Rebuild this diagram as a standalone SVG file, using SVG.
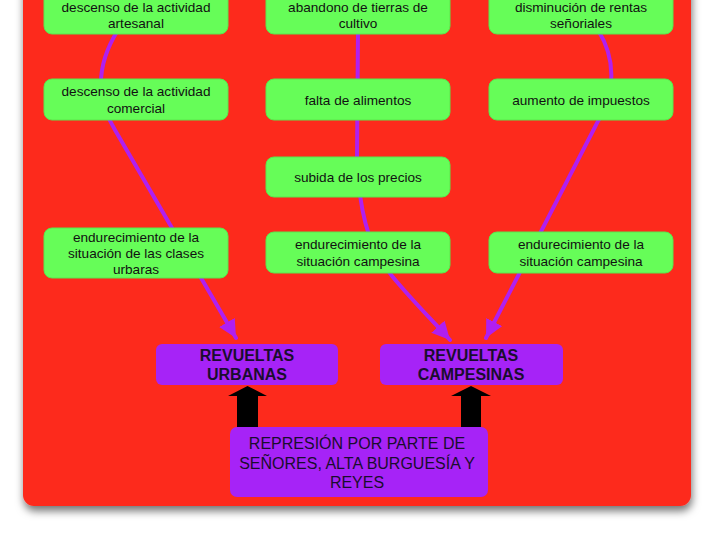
<svg xmlns="http://www.w3.org/2000/svg" width="720" height="540" viewBox="0 0 720 540">
<defs>
<filter id="sh" x="-10%" y="-10%" width="120%" height="120%">
<feDropShadow dx="1" dy="5" stdDeviation="4" flood-color="#000" flood-opacity="0.55"/>
</filter>
<marker id="ah" markerUnits="userSpaceOnUse" markerWidth="20" markerHeight="18" refX="18" refY="9" orient="auto">
<path d="M0,0 L18,9 L0,18 z" fill="#b01ff0"/>
</marker>
<style>
.g{fill:#66fd58;stroke:#5ae64d;stroke-width:1}
.p{fill:#a623f7}
.t{font-family:"Liberation Sans",Arial,sans-serif;font-size:13.6px;fill:#111;text-anchor:middle}
.b{font-family:"Liberation Sans",Arial,sans-serif;font-size:16px;font-weight:bold;fill:#1a0d2e;text-anchor:middle}
.r{font-family:"Liberation Sans",Arial,sans-serif;font-size:16px;fill:#1a0d2e;text-anchor:middle}
.c{fill:none;stroke:#b01ff0;stroke-width:4;stroke-linecap:round}
</style>
</defs>
<rect x="0" y="0" width="720" height="540" fill="#fff"/>
<rect x="23" y="-20" width="668" height="526" rx="11" fill="#fd2a1d" filter="url(#sh)"/>

<g id="connectors">
<path class="c" d="M118,30 C98,62 94,96 115,130 L236,338" marker-end="url(#ah)"/>
<path class="c" d="M358,30 L357,160 C359,205 366,245 392,276 C410,298 430,318 450,340" marker-end="url(#ah)"/>
<path class="c" d="M598,30 C618,62 614,96 596,125 L486,338" marker-end="url(#ah)"/>
<path d="M237,427 L237,396 L228,396 L247.5,386 L267,396 L258,396 L258,427 z" fill="#000"/>
<path d="M461,427 L461,396 L451,396 L471,386 L491,396 L481,396 L481,427 z" fill="#000"/>
</g>

<g id="n1"><rect class="g" x="44" y="-12" width="184" height="46" rx="8"/>
<text class="t" x="136" y="12">descenso de la actividad</text><text class="t" x="136" y="28">artesanal</text></g>
<g id="n2"><rect class="g" x="266" y="-12" width="184" height="46" rx="8"/>
<text class="t" x="358" y="12">abandono de tierras de</text><text class="t" x="358" y="28">cultivo</text></g>
<g id="n3"><rect class="g" x="489" y="-12" width="184" height="46" rx="8"/>
<text class="t" x="581" y="12">disminución de rentas</text><text class="t" x="581" y="28">señoriales</text></g>

<g id="n4"><rect class="g" x="44" y="79" width="184" height="41" rx="8"/>
<text class="t" x="136" y="96">descenso de la actividad</text><text class="t" x="136" y="113">comercial</text></g>
<g id="n5"><rect class="g" x="266" y="79" width="184" height="41" rx="8"/>
<text class="t" x="358" y="105">falta de alimentos</text></g>
<g id="n6"><rect class="g" x="489" y="79" width="184" height="41" rx="8"/>
<text class="t" x="581" y="105">aumento de impuestos</text></g>

<g id="n7"><rect class="g" x="266" y="157" width="184" height="40" rx="8"/>
<text class="t" x="358" y="182">subida de los precios</text></g>

<g id="n8"><rect class="g" x="44" y="228" width="184" height="50" rx="8"/>
<text class="t" x="136" y="242">endurecimiento de la</text><text class="t" x="136" y="258">situación de las clases</text><text class="t" x="136" y="274">urbaras</text></g>
<g id="n9"><rect class="g" x="266" y="232" width="184" height="41" rx="8"/>
<text class="t" x="358" y="249">endurecimiento de la</text><text class="t" x="358" y="266">situación campesina</text></g>
<g id="n10"><rect class="g" x="489" y="232" width="184" height="41" rx="8"/>
<text class="t" x="581" y="249">endurecimiento de la</text><text class="t" x="581" y="266">situación campesina</text></g>

<g id="n11"><rect class="p" x="156" y="344" width="182" height="41" rx="6"/>
<text class="b" x="247" y="361">REVUELTAS</text><text class="b" x="247" y="380">URBANAS</text></g>
<g id="n12"><rect class="p" x="380" y="344" width="183" height="41" rx="6"/>
<text class="b" x="471" y="361">REVUELTAS</text><text class="b" x="471" y="380">CAMPESINAS</text></g>
<g id="n13"><rect class="p" x="230" y="427" width="258" height="70" rx="7"/>
<text class="r" x="357" y="449">REPRESIÓN POR PARTE DE</text><text class="r" x="357" y="469">SEÑORES, ALTA BURGUESÍA Y</text><text class="r" x="357" y="488">REYES</text></g>
</svg>
